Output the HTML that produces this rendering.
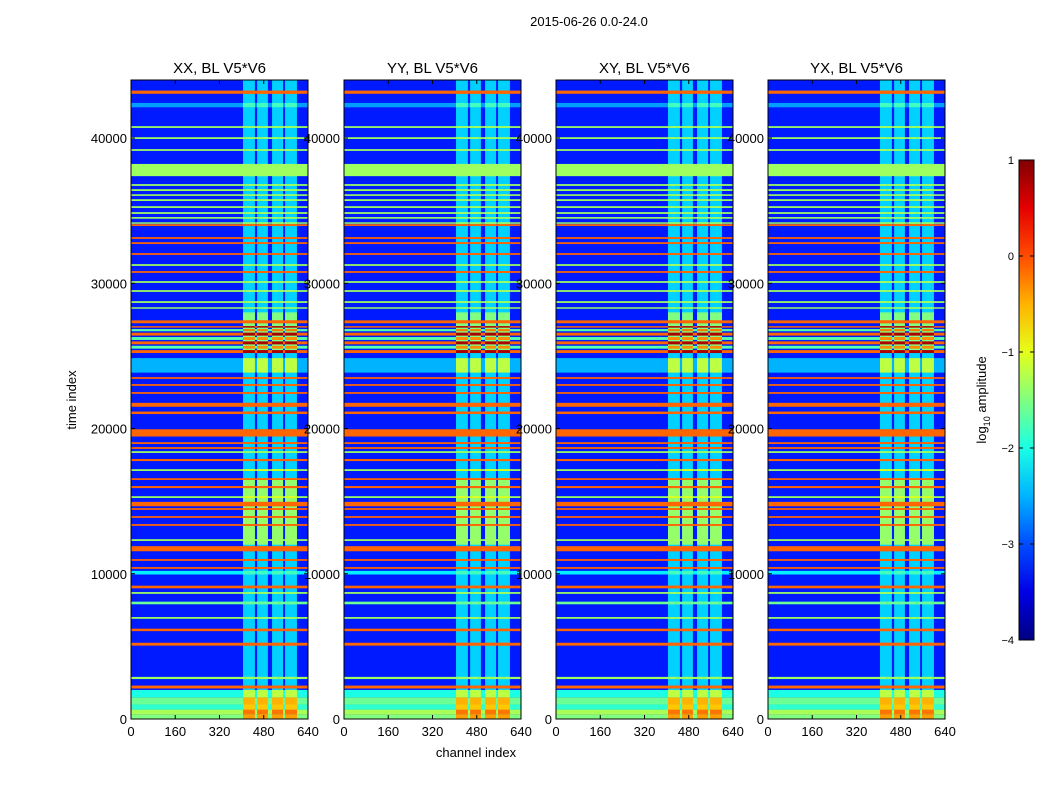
<!DOCTYPE html>
<html><head><meta charset="utf-8"><style>
body{margin:0;background:#fff;font-family:"Liberation Sans",sans-serif;}
svg text{font-family:"Liberation Sans",sans-serif;}
</style></head><body>
<svg id="fig" width="1050" height="800" xmlns="http://www.w3.org/2000/svg">
<text x="589" y="26" font-size="13" text-anchor="middle">2015-06-26 0.0-24.0</text>
</svg>
<script>
// ---- data ----
const panelTitles = ["XX, BL V5*V6","YY, BL V5*V6","XY, BL V5*V6","YX, BL V5*V6"];
const xTicks = [0,160,320,480,640];
const yTicks = [0,10000,20000,30000,40000];
const cbTicks = [1,0,-1,-2,-3,-4];
const channelBlocks = [[405,448],[456,495],[510,550],[557,600]];
const backgroundOut = -3.25;
const backgroundIn = -2.35;
// stripes: [tStart, tEnd, valueOutsideBlocks, valueInsideBlocks]
const stripeStart = [0,    300,  650,  1000, 1500, 2100, 2750, 5050, 6050, 6900, 7900, 8620, 9000, 9950, 10340,10890,11550,12260,13300,13850,14400,14650,15220,15900,16460,17080,17760,18320,18600,18940,19450,21000,21500,22390,22940,23420,23850,25200,25500,25800,26100,26400,26700,26950,27250,28250,28650,29410,30030,30720,31200,31960,32710,33060,33950,34100,34450,34780,35190,35670,36020,36360,36710,37380,39120,39940,40700,42120,43050];
const stripeEnd   = [300,  650,  1000, 1500, 2000, 2300, 2900, 5250, 6220, 7020, 8080, 8740, 9180, 10200,10460,11010,11900,12380,13420,13970,14520,14950,15340,16040,16580,17200,17900,18440,18720,19060,19950,21170,21770,22510,23060,23540,24850,25400,25700,26000,26300,26600,26850,27050,27450,28350,28770,29530,30150,30840,31320,32080,32830,33180,34070,34200,34560,34900,35310,35790,36130,36480,36830,38220,39240,40060,40820,42420,43270];
const stripeOut   = [-1.5, -1.3, -1.9, -1.6, -2.0, -0.12,-1.35,-0.12,-0.12,-1.35,-1.6, -1.35,-0.12,-2.2, -0.12,-0.12,-0.12,-1.35,-0.12,-0.12,-0.12,-0.12,-1.35,-0.12,-0.12,-1.35,-0.12,-1.35,-0.12,-0.12,-0.12,-0.12,-0.12,-0.12,-0.12,-0.12,-2.5, -0.12,-1.7, -0.12,-1.7, -0.12,-1.7, -0.12,-0.12,-1.35,-1.35,-1.35,-1.35,-0.12,-1.35,-0.12,-0.12,-0.12,-0.12,-1.35,-1.35,-1.35,-1.35,-1.35,-1.35,-1.35,-1.35,-1.35,-1.35,-1.35,-1.35,-2.6, -0.12];
const stripeIn    = [-0.4, -0.2, -0.6, -0.5, -1.2, -0.12,-1.35,-0.12,-0.12,-1.35,-1.6, -1.35,-0.12,-1.8, -0.12,-0.12,-0.12,-1.35,-0.12,-0.12,-0.12,-0.12,-1.0, -0.12,-0.12,-1.0, -0.12,-1.35,-0.12,-0.12,-0.12,-0.12,-0.12,-0.12,-0.12,-0.12,-1.2, 0.8,  -0.3, 0.8,  -0.3, 0.8,  -0.2, 0.8,  -0.12,-1.35,-1.35,-1.35,-1.35,-0.12,-1.35,-0.12,-0.12,-0.12,-0.12,-1.35,-1.35,-1.35,-1.35,-1.35,-1.35,-1.35,-1.35,-1.35,-1.35,-1.35,-1.35,-1.8, -0.12];
// mid-level block brightness regions
const blockRegionStart = [12000, 25200];
const blockRegionEnd   = [16600, 28000];
const blockRegionVal   = [-1.4, -1.5];

// ---- layout ----
const NS="http://www.w3.org/2000/svg";
const svg=document.getElementById('fig');
const panelX=[131,344,556,768], panelW=177, plotTop=80, plotBottom=719;
const tMax=44000, cMax=640, vMin=-4, vMax=1;
function jet(v){
  let n=(v-vMin)/(vMax-vMin); n=Math.max(0,Math.min(1,n));
  const c=x=>Math.round(255*Math.max(0,Math.min(1,x)));
  return `rgb(${c(1.5-Math.abs(4*n-3))},${c(1.5-Math.abs(4*n-2))},${c(1.5-Math.abs(4*n-1))})`;
}
function el(tag,attrs,parent){const e=document.createElementNS(NS,tag);for(const k in attrs)e.setAttribute(k,attrs[k]);(parent||svg).appendChild(e);return e;}
function yScale(t){return plotBottom-(t/tMax)*(plotBottom-plotTop);}

panelTitles.forEach((title,p)=>{
  const x0=panelX[p];
  const xScale=c=>x0+c/cMax*panelW;
  const g=el('g',{});
  
  
  const bg=el('rect',{x:x0,y:plotTop,width:panelW,height:plotBottom-plotTop,fill:jet(backgroundOut)},g);
  
  
  channelBlocks.forEach(b=>{
    const r=el('rect',{x:xScale(b[0]),y:plotTop,width:xScale(b[1])-xScale(b[0]),height:plotBottom-plotTop,fill:jet(backgroundIn)},g);
    
    
  });
  blockRegionStart.forEach((s,i)=>{
    channelBlocks.forEach(b=>{
      const y1=yScale(blockRegionEnd[i]),y2=yScale(s);
      const r=el('rect',{x:xScale(b[0]),y:y1,width:xScale(b[1])-xScale(b[0]),height:y2-y1,fill:jet(blockRegionVal[i])},g);
      
      
    });
  });
  stripeStart.forEach((s,i)=>{
    const y1=yScale(stripeEnd[i]),y2=yScale(s),h=Math.max(1,y2-y1);
    const r=el('rect',{x:x0,y:y1,width:panelW,height:h,fill:jet(stripeOut[i])},g);
    
    
    channelBlocks.forEach(b=>{
      const rb=el('rect',{x:xScale(b[0]),y:y1,width:xScale(b[1])-xScale(b[0]),height:h,fill:jet(stripeIn[i])},g);
      
      
    });
  });
  const frame=el('rect',{x:x0,y:plotTop,width:panelW,height:plotBottom-plotTop,fill:'none',stroke:'#000','stroke-width':1},g);
  
  
  const tt=el('text',{x:x0+panelW/2,y:73,'font-size':15,'text-anchor':'middle'},g);
  tt.textContent=title;
  
  
  xTicks.forEach(c=>{
    const x=xScale(c);
    el('line',{x1:x,x2:x,y1:plotBottom,y2:plotBottom-4,stroke:'#000'},g);
    el('line',{x1:x,x2:x,y1:plotTop,y2:plotTop+4,stroke:'#000'},g);
    const t=el('text',{x:x,y:plotBottom+17,'font-size':13,'text-anchor':'middle'},g);
    t.textContent=c;
    
    
  });
  yTicks.forEach(v=>{
    const y=yScale(v);
    el('line',{x1:x0,x2:x0+4,y1:y,y2:y,stroke:'#000'},g);
    el('line',{x1:x0+panelW,x2:x0+panelW-4,y1:y,y2:y,stroke:'#000'},g);
    const t=el('text',{x:x0-4,y:y+5,'font-size':13,'text-anchor':'end'},g);
    t.textContent=v;
    
    
  });
});
const xl=el('text',{x:476,y:757,'font-size':13,'text-anchor':'middle'});
xl.textContent='channel index';


const yl=el('text',{x:0,y:0,'font-size':13,'text-anchor':'middle',transform:'translate(76,400) rotate(-90)'});
yl.textContent='time index';



// colorbar
const cbX=1019,cbW=15,cbTop=160,cbBot=640;
const defs=el('defs',{});
const grad=el('linearGradient',{id:'jetg',x1:0,y1:1,x2:0,y2:0},defs);
for(let i=0;i<=10;i++){el('stop',{offset:i/10,'stop-color':jet(vMin+(vMax-vMin)*i/10)},grad);}
const cb=el('rect',{x:cbX,y:cbTop,width:cbW,height:cbBot-cbTop,fill:'url(#jetg)',stroke:'#000'});


cbTicks.forEach(v=>{
  const y=cbBot-(v-vMin)/(vMax-vMin)*(cbBot-cbTop);
  el('line',{x1:cbX,x2:cbX+4,y1:y,y2:y,stroke:'#000'});
  el('line',{x1:cbX+cbW,x2:cbX+cbW-4,y1:y,y2:y,stroke:'#000'});
  const t=el('text',{x:cbX-5,y:y+4,'font-size':11,'text-anchor':'end'});
  t.textContent=v<0?'\u2212'+(-v):String(v);
  
  
});
const cl=el('text',{x:0,y:0,'font-size':13,'text-anchor':'middle',transform:'translate(986,400) rotate(-90)'});
cl.innerHTML='log<tspan font-size="9" dy="4">10</tspan><tspan dy="-4"> amplitude</tspan>';


</script>
</body></html>
